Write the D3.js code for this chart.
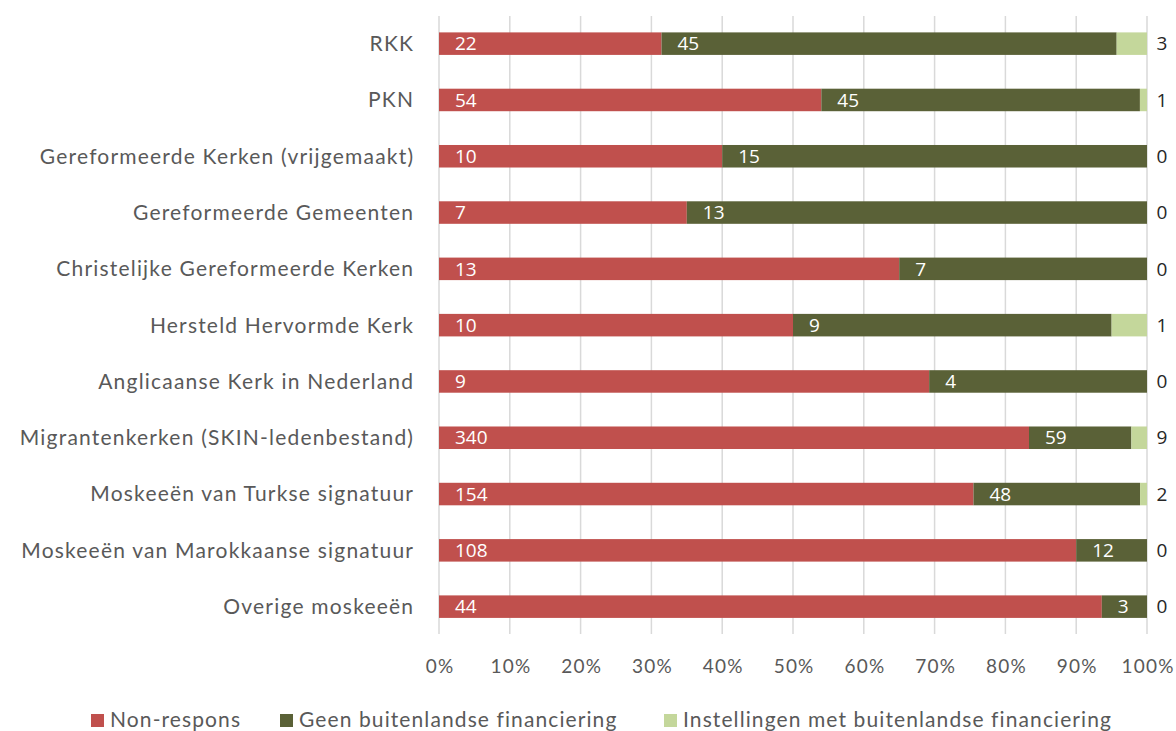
<!DOCTYPE html>
<html><head><meta charset="utf-8">
<script src="https://cdn.jsdelivr.net/npm/d3@7"></script>
<style>
body{margin:0;background:#fff;}
svg{display:block;}
</style></head>
<body>
<svg id="chart" width="1176" height="731"></svg>
<script>
const categories = ["RKK","PKN","Gereformeerde Kerken (vrijgemaakt)","Gereformeerde Gemeenten","Christelijke Gereformeerde Kerken","Hersteld Hervormde Kerk","Anglicaanse Kerk in Nederland","Migrantenkerken (SKIN-ledenbestand)","Moskeeën van Turkse signatuur","Moskeeën van Marokkaanse signatuur","Overige moskeeën"];
const nonRespons = [22,54,10,7,13,10,9,340,154,108,44];
const geenFinanciering = [45,45,15,13,7,9,4,59,48,12,3];
const metFinanciering = [3,1,0,0,0,1,0,9,2,0,0];
const seriesNames = ["Non-respons","Geen buitenlandse financiering","Instellingen met buitenlandse financiering"];
const tickValues = [0,0.1,0.2,0.3,0.4,0.5,0.6,0.7,0.8,0.9,1];

(function(){
const colors = ["#C0504D","#5A6137","#C4D79B"];
const labelFont = "Lato, 'Open Sans', sans-serif";
const numFont = "'Open Sans', sans-serif";

const svg = d3.select("#chart");
const pLeft = 439, pRight = 1147, pTop = 16, pBottom = 634;

const x = d3.scaleLinear().domain([0,1]).range([pLeft,pRight]);
const y = d3.scaleBand().domain(categories).range([15.5, 634.8]).paddingInner(0.6).paddingOuter(0.3);

const rows = categories.map((c,i)=>{
  const vals=[nonRespons[i],geenFinanciering[i],metFinanciering[i]];
  const tot=d3.sum(vals);
  let acc=0;
  return vals.map((v,k)=>{const s=acc/tot; acc+=v; return {cat:c,k,v,x0:s,x1:acc/tot};});
});

svg.append("g").selectAll("line").data(tickValues).join("line")
  .attr("x1",d=>x(d)).attr("x2",d=>x(d)).attr("y1",pTop).attr("y2",pBottom)
  .attr("stroke","#D9D9D9").attr("stroke-width",1.5);

const g = svg.append("g");
rows.forEach(r=>{
  r.forEach(s=>{
    g.append("rect").attr("x",x(s.x0)).attr("width",Math.max(0,x(s.x1)-x(s.x0)))
      .attr("y",y(s.cat)).attr("height",y.bandwidth()).attr("fill",colors[s.k]);
  });
  r.forEach(s=>{
    const cy = y(s.cat)+y.bandwidth()/2;
    if(s.k<2){
      g.append("text").attr("x",x(s.x0)+16).attr("y",cy).attr("dy","0.35em")
        .attr("fill","#fff").attr("font-family",numFont).attr("font-size",19).text(s.v);
    } else {
      g.append("text").attr("x",x(1)+15).attr("y",cy).attr("dy","0.35em").attr("text-anchor","middle")
        .attr("fill","#262626").attr("font-family",numFont).attr("font-size",19).text(s.v);
    }
  });
});

svg.append("g").selectAll("text").data(categories).join("text")
  .attr("x",414.2).attr("y",d=>y(d)+y.bandwidth()/2).attr("dy","0.35em").attr("text-anchor","end")
  .attr("fill","#595959").attr("font-family",labelFont).attr("font-size",21)
  .attr("letter-spacing",1.2).text(d=>d);

const xAxis = d3.axisBottom(x).tickValues(tickValues).tickFormat(d3.format(".0%")).tickSize(0).tickPadding(0);
const ax = svg.append("g").attr("transform",`translate(0,${666})`).call(xAxis);
ax.select(".domain").remove();
ax.selectAll("text").attr("fill","#595959").attr("font-family",labelFont).attr("font-size",19)
  .attr("letter-spacing",1.2).attr("dx","0.6").attr("dy","0.35em").attr("y",0);

const legendX = [91,280,664];
const lg = svg.append("g");
seriesNames.forEach((n,i)=>{
  lg.append("rect").attr("x",legendX[i]).attr("y",714).attr("width",13).attr("height",13).attr("fill",colors[i]);
  lg.append("text").attr("x",legendX[i]+19).attr("y",727).attr("fill","#595959")
    .attr("font-family",labelFont).attr("font-size",21).attr("letter-spacing",1.1).text(n);
});
})();
</script>
</body></html>
